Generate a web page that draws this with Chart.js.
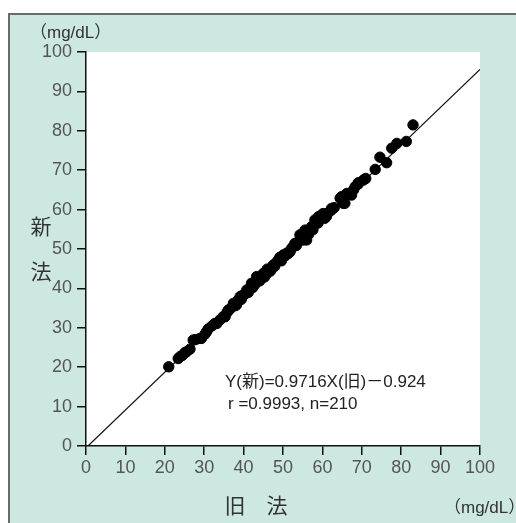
<!DOCTYPE html>
<html><head><meta charset="utf-8">
<script src="https://cdn.jsdelivr.net/npm/chart.js@4.4.0/dist/chart.umd.min.js"></script>
<style>html,body{margin:0;padding:0;background:#fff;}canvas{display:block;}</style>
</head><body>
<canvas id="c" width="516" height="523"></canvas>
<script>
// Data
const oldMethod = [21.0,23.4,23.9,24.5,25.1,25.5,26.4,27.2,27.8,28.9,29.3,30.2,30.6,31.0,32.0,32.7,33.2,34.0,34.8,35.3,35.8,36.1,36.6,37.4,37.8,38.2,38.5,39.1,39.4,39.8,40.3,40.8,41.2,41.6,42.0,42.3,42.8,43.3,43.7,44.1,44.5,45.0,45.3,45.7,46.0,46.3,46.8,47.2,47.5,47.9,48.3,48.8,49.2,49.6,50.1,50.1,50.6,51.0,51.4,51.8,52.2,52.6,53.0,53.4,53.9,54.3,54.6,55.2,55.6,56.0,56.0,56.5,57.3,57.6,58.1,58.5,58.9,59.0,59.8,60.2,60.6,61.0,61.5,62.3,62.3,63.0,64.5,64.9,65.3,65.7,66.2,66.2,67.4,67.9,68.3,69.1,69.1,70.4,71.0,73.4,74.6,76.3,77.6,78.9,81.3,83.0];
const newMethod = [20.1,22.2,22.7,23.0,23.7,23.9,24.6,26.9,27.0,27.3,27.3,28.4,29.0,29.7,30.5,31.1,31.1,32.0,32.8,32.8,33.9,34.5,34.8,36.2,35.6,35.8,36.9,37.9,37.2,38.3,38.5,39.6,39.0,40.1,41.3,40.2,40.9,43.0,42.0,41.9,42.8,43.8,42.9,43.5,44.9,44.7,44.4,45.3,45.9,45.6,46.6,47.2,47.9,47.0,48.0,48.5,48.3,49.0,48.9,49.3,50.2,50.6,51.4,50.9,51.9,53.6,52.3,52.3,54.8,54.0,52.3,53.7,55.7,54.9,57.4,57.4,56.6,58.2,58.6,59.0,57.8,58.2,59.2,59.9,60.3,60.5,62.9,63.3,61.6,61.6,63.7,64.1,63.7,65.0,65.8,66.5,66.8,67.5,67.9,70.2,73.3,71.9,75.6,76.8,77.3,81.5];
const lineX = [0.5, 100];
const lineY = [0, 95.6];
const tickValues = [0,10,20,30,40,50,60,70,80,90,100];
const unitLabel = '（mg/dL）';
const yTitle = ['新','法'];
const xTitle = '旧　法';
const eqLine1 = 'Y(新)=0.9716X(旧)－0.924';
const eqLine2 = 'r =0.9993, n=210';

const MINT = '#cde8e0';
const tickFont = {family:"'Liberation Sans Narrow','Liberation Sans',Arial,sans-serif", size:18};

const deco = {
  id:'deco',
  beforeDraw(chart){
    const ctx = chart.ctx, a = chart.chartArea;
    ctx.save();
    ctx.fillStyle = '#fff';
    ctx.fillRect(0,0,chart.width,chart.height);
    ctx.fillStyle = MINT;
    ctx.fillRect(9,14,chart.width-9,chart.height-14);
    ctx.fillStyle = '#6a6a6a';
    ctx.fillRect(8,13,chart.width-8,2);
    ctx.fillRect(8,13,2,chart.height-13);
    ctx.fillStyle = '#fff';
    ctx.fillRect(a.left,a.top,a.right-a.left,a.bottom-a.top);
    ctx.restore();
  },
  afterDraw(chart){
    const ctx = chart.ctx;
    ctx.save();
    ctx.fillStyle = '#333';
    ctx.textBaseline = 'middle';
    ctx.font = "17px 'Liberation Sans','Noto Sans CJK JP',sans-serif";
    ctx.textAlign = 'left';
    ctx.fillText(unitLabel, 30, 33);
    ctx.fillText(unitLabel, 444, 508);
    ctx.font = "21px 'Noto Sans CJK JP',sans-serif";
    ctx.textAlign = 'center';
    ctx.fillText(yTitle[0], 41, 226);
    ctx.fillText(yTitle[1], 41, 271);
    ctx.fillText(xTitle, 256, 505);
    ctx.fillStyle = '#222';
    ctx.textAlign = 'left';
    ctx.font = "17px 'Liberation Sans Narrow','Liberation Sans','Noto Sans CJK JP',sans-serif";
    ctx.fillText(eqLine1, 225, 382);
    ctx.fillText(eqLine2, 228, 404);
    ctx.restore();
  }
};

const axisCommon = (isX) => ({
  type:'linear', min:0, max:100,
  afterBuildTicks(s){ s.ticks = tickValues.map(v=>({value:v})); },
  grid:{display:true, drawOnChartArea:false, drawTicks:true, tickLength:9, color:'#111', lineWidth:1.5},
  border:{display:true, color:'#111', width:1.5},
  ticks:{color:'#555', font:tickFont, padding: isX ? 2 : 5, maxRotation:0, autoSkip:false},
});

new Chart(document.getElementById('c'), {
  type:'scatter',
  data:{
    datasets:[
      {label:'points', data: oldMethod.map((x,i)=>({x, y:newMethod[i]})),
       backgroundColor:'#000', borderColor:'#000', pointRadius:5.2, borderWidth:1, order:0},
      {label:'fit', type:'line', data: lineX.map((x,i)=>({x, y:lineY[i]})),
       borderColor:'#111', borderWidth:1.2, pointRadius:0, showLine:true, fill:false, order:1}
    ]
  },
  options:{
    responsive:false, animation:false,
    devicePixelRatio:1,
    layout:{padding:{left:0, top:52, right:36, bottom:0}},
    plugins:{legend:{display:false}, tooltip:{enabled:false}},
    scales:{
      x:{...axisCommon(true), afterFit(s){ s.height = 77; }},
      y:{...axisCommon(false), afterFit(s){ s.width = 86; }}
    }
  },
  plugins:[deco]
});
</script>
</body></html>
